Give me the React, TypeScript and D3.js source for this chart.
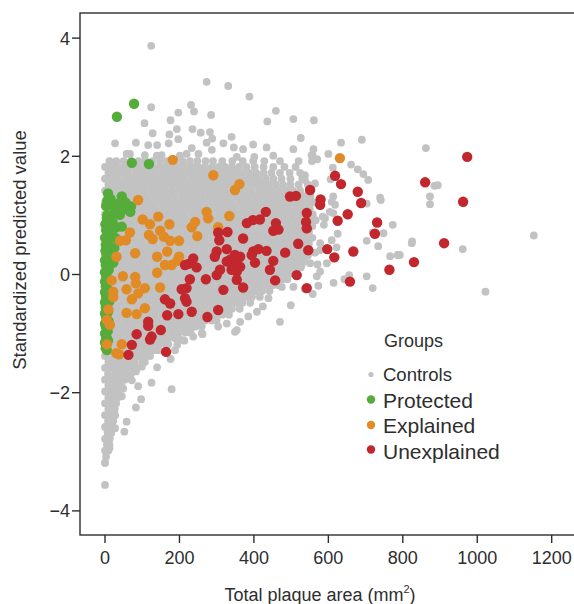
import React from "react";
import * as d3 from "d3";

const xTicks = [0, 200, 400, 600, 800, 1000, 1200];
const yTicks = [-4, -2, 0, 2, 4];
const legendLabels = ["Controls", "Protected", "Explained", "Unexplained"];
const groupColors = ["#c2c2c2", "#56ac3a", "#e08b25", "#c1272d"];

// dense control cloud: rows of [y, x values]
const controlsRows: [number, number[]][] = [
  [1.92, [12, 30, 50, 70, 90, 108, 128, 148, 167, 188, 208, 228, 248, 270, 290, 315, 342, 370, 398, 428, 470, 520, 556]],
  [1.82, [0, 18, 35, 53, 72, 90, 107, 125, 144, 162, 179, 197, 216, 234, 251, 269, 288, 306, 323, 341, 360, 380, 402, 426, 452, 482, 512]],
  [1.72, [9, 27, 44, 62, 81, 99, 116, 134, 153, 171, 188, 206, 225, 243, 260, 278, 297, 315, 332, 350, 369, 387, 406, 426, 447, 470, 496, 524]],
  [1.62, [0, 17, 35, 54, 71, 90, 108, 125, 143, 162, 180, 197, 215, 234, 252, 269, 287, 306, 324, 341, 359, 378, 396, 413, 432, 452, 474, 498, 530]],
  [1.52, [9, 26, 45, 62, 80, 99, 117, 134, 152, 171, 189, 206, 224, 243, 261, 278, 296, 315, 333, 350, 368, 387, 405, 422, 440, 459, 478, 498, 520, 545]],
  [1.42, [0, 18, 36, 53, 71, 90, 107, 126, 144, 161, 179, 198, 216, 233, 251, 270, 288, 305, 323, 342, 360, 377, 395, 414, 432, 449, 467, 486, 504, 524, 548]],
  [1.32, [8, 27, 44, 63, 81, 98, 116, 135, 153, 170, 188, 207, 225, 242, 260, 279, 297, 314, 332, 351, 369, 386, 404, 423, 441, 458, 476, 495, 513, 533, 552]],
  [1.22, [0, 18, 35, 53, 72, 90, 107, 125, 144, 162, 179, 197, 216, 234, 251, 269, 288, 306, 323, 341, 360, 378, 395, 413, 432, 450, 467, 485, 504, 522, 541, 558]],
  [1.12, [9, 27, 44, 62, 81, 99, 116, 134, 153, 171, 188, 206, 225, 243, 260, 278, 297, 315, 332, 350, 369, 387, 404, 422, 441, 459, 476, 494, 513, 531, 550]],
  [1.02, [0, 17, 35, 54, 71, 90, 108, 125, 143, 162, 180, 197, 215, 234, 252, 269, 287, 306, 324, 341, 359, 378, 396, 413, 432, 450, 468, 485, 503, 522, 540, 558]],
  [0.92, [9, 26, 45, 62, 80, 99, 117, 134, 152, 171, 189, 206, 224, 243, 261, 278, 296, 315, 333, 350, 368, 387, 405, 422, 440, 459, 477, 494, 512, 531, 549, 566]],
  [0.82, [0, 18, 36, 53, 71, 90, 107, 126, 144, 161, 179, 198, 216, 233, 251, 270, 288, 305, 323, 342, 360, 377, 395, 414, 432, 449, 467, 486, 504, 521, 539, 557]],
  [0.72, [8, 27, 44, 63, 81, 98, 116, 135, 153, 170, 188, 207, 225, 242, 260, 279, 297, 314, 332, 351, 369, 386, 404, 423, 441, 458, 476, 495, 513, 531, 548]],
  [0.62, [0, 18, 35, 53, 72, 90, 107, 125, 144, 162, 179, 197, 216, 234, 251, 269, 288, 306, 323, 341, 360, 378, 395, 413, 432, 450, 467, 485, 504, 522, 539, 557]],
  [0.52, [9, 27, 44, 62, 81, 99, 116, 134, 153, 171, 188, 206, 225, 243, 260, 278, 297, 315, 332, 350, 369, 387, 404, 422, 441, 459, 476, 494, 513, 531, 548]],
  [0.42, [0, 17, 35, 54, 71, 90, 108, 125, 143, 162, 180, 197, 215, 234, 252, 269, 287, 306, 324, 341, 359, 378, 396, 413, 432, 450, 468, 485, 503, 522, 540]],
  [0.32, [9, 26, 45, 62, 80, 99, 117, 134, 152, 171, 189, 206, 224, 243, 261, 278, 296, 315, 333, 350, 368, 387, 405, 422, 440, 459, 477, 494, 512, 530, 545]],
  [0.22, [0, 18, 36, 53, 71, 90, 107, 126, 144, 161, 179, 198, 216, 233, 251, 270, 288, 305, 323, 342, 360, 377, 395, 414, 432, 449, 467, 486, 504, 521, 535]],
  [0.12, [8, 27, 44, 63, 81, 98, 116, 135, 153, 170, 188, 207, 225, 242, 260, 279, 297, 314, 332, 351, 369, 386, 404, 423, 441, 458, 476, 495, 513, 526]],
  [0.02, [0, 18, 35, 53, 72, 90, 107, 125, 144, 162, 179, 197, 216, 234, 251, 269, 288, 306, 323, 341, 360, 378, 395, 413, 432, 450, 467, 485, 502]],
  [-0.08, [9, 27, 44, 62, 81, 99, 116, 134, 153, 171, 188, 206, 225, 243, 260, 278, 297, 315, 332, 350, 369, 387, 404, 422, 441, 459, 476, 490]],
  [-0.18, [0, 17, 35, 54, 71, 90, 108, 125, 143, 162, 180, 197, 215, 234, 252, 269, 287, 306, 324, 341, 359, 378, 396, 413, 432, 450, 466]],
  [-0.28, [9, 26, 45, 62, 80, 99, 117, 134, 152, 171, 189, 206, 224, 243, 261, 278, 296, 315, 333, 350, 368, 387, 405, 422, 442]],
  [-0.38, [0, 18, 36, 53, 71, 90, 107, 126, 144, 161, 179, 198, 216, 233, 251, 270, 288, 305, 323, 342, 360, 377, 395, 416]],
  [-0.48, [8, 27, 44, 63, 81, 98, 116, 135, 153, 170, 188, 207, 225, 242, 260, 279, 297, 314, 332, 351, 369, 390]],
  [-0.58, [0, 18, 35, 53, 72, 90, 107, 125, 144, 162, 179, 197, 216, 234, 251, 269, 288, 306, 323, 341, 362]],
  [-0.68, [9, 27, 44, 62, 81, 99, 116, 134, 153, 171, 188, 206, 225, 243, 260, 278, 297, 315, 333]],
  [-0.78, [0, 17, 35, 54, 71, 90, 108, 125, 143, 162, 180, 197, 215, 234, 252, 269, 287, 300]],
  [-0.88, [9, 26, 45, 62, 80, 99, 117, 134, 152, 171, 189, 206, 224, 243, 260]],
  [-0.98, [0, 18, 36, 53, 71, 90, 107, 126, 144, 161, 179, 198, 216, 230]],
  [-1.08, [8, 27, 44, 63, 81, 98, 116, 135, 153, 170, 188, 198]],
  [-1.18, [0, 18, 35, 53, 72, 90, 107, 125, 144, 162, 170]],
  [-1.28, [9, 27, 44, 62, 81, 99, 116, 134, 145]],
  [-1.38, [0, 17, 35, 54, 71, 90, 108, 121]],
  [-1.48, [9, 26, 45, 62, 80, 100]],
  [-1.58, [0, 18, 36, 53, 71, 86]],
  [-1.68, [8, 27, 44, 62, 70]],
  [-1.78, [0, 18, 35, 53]],
  [-1.88, [9, 27, 44]],
  [-1.98, [0, 17, 35]],
  [-2.08, [9, 26, 34]],
  [-2.18, [0, 18, 30]],
  [-2.28, [9, 26]],
  [-2.38, [0, 16, 26]],
  [-2.48, [8, 22]],
  [-2.58, [0, 14, 20]],
  [-2.68, [7, 17]],
  [-2.78, [0, 13]],
  [-2.88, [5, 12]],
  [-2.98, [0, 9]],
  [-3.08, [3]],
  [-3.18, [0]],
];

// scattered control points outside the dense cloud [x, y]
const controlsSparse: [number, number][] = [
  [124, 3.87], [273, 3.26], [331, 3.19], [388, 3.01], [231, 2.87], [239, 2.76], [124, 2.83], [197, 2.74],
  [285, 2.7], [459, 2.77], [436, 2.59], [506, 2.63], [561, 2.61], [176, 2.61], [106, 2.56], [193, 2.46],
  [235, 2.46], [128, 2.39], [257, 2.4], [282, 2.41], [173, 2.37], [288, 2.3], [340, 2.33], [197, 2.29],
  [526, 2.31], [27, 2.22], [83, 2.23], [116, 2.19], [140, 2.19], [171, 2.22], [273, 2.23], [318, 2.22],
  [346, 2.15], [398, 2.2], [371, 2.12], [434, 2.15], [506, 2.12], [560, 2.12], [233, 2.14], [287, 2.11],
  [600, 2.04], [452, 2.01], [555, 2.02], [570, 1.95], [58, 2.04], [67, 2.04], [107, 2.02], [139, 2.01],
  [152, 2.02], [201, 2.01], [219, 2.04], [251, 2.04], [354, 1.99], [401, 1.99],
  [634, 2.23], [690, 2.28], [558, 2.01], [661, 1.86], [679, 1.78], [694, 1.7], [707, 1.6], [612, 1.81],
  [537, 1.68], [537, 1.6], [564, 1.54], [606, 1.61], [739, 1.3], [862, 2.14], [885, 1.5], [894, 1.51],
  [873, 1.32], [873, 1.19], [773, 0.84], [613, 1.32], [618, 1.18], [604, 1.06], [524, 1.4], [537, 1.32],
  [591, 0.95], [560, 0.92], [703, 1.2], [528, 1.23], [609, 1.23], [741, 1.26], [748, 0.7], [719, 0.71],
  [703, 0.57], [734, 0.48], [824, 0.53], [825, 0.56], [766, 0.31], [786, 0.33], [961, 0.43], [703, -0.03],
  [719, -0.23], [656, -0.01], [643, -0.08], [614, -0.14], [573, -0.19], [558, -0.33], [569, -0.03], [571, 0.17],
  [528, 0.16], [622, 0.46], [625, 0.69], [588, 0.84], [613, 1.04], [585, 0.98], [564, 0.37], [578, 0.53],
  [546, 0.58], [609, 0.58], [1152, 0.66], [1022, -0.29], [792, 0.33],
  [470, -0.8], [499, -0.52], [537, -0.25], [506, -0.21], [475, -0.21], [439, -0.4], [424, -0.54], [408, -0.63],
  [385, -0.71], [363, -0.8], [354, -0.94], [327, -0.83], [304, -0.88], [260, -0.99], [237, -1.05], [210, -1.11],
  [194, -1.19], [188, -1.28], [596, 0.19], [578, 0.41], [551, 0.19], [519, 0.13], [578, 0.05], [349, -0.97],
  [262, -1.01], [213, -1.12], [176, -1.43], [140, -1.57], [125, -1.83], [89, -1.89], [72, -1.79], [83, -1.64],
  [179, -1.94], [97, -2.11], [83, -2.25], [45, -2.06], [58, -2.49], [52, -2.66], [27, -2.6], [27, -2.38],
  [12, -2.94], [0, -3.19], [0, -3.56], [99, -1.56], [107, -1.48], [67, -1.7], [49, -1.93],
];

const protectedPts: [number, number][] = [
  [32, 2.67], [78, 2.89], [72, 1.89], [118, 1.87], [8, 1.37], [45, 1.32], [15, 1.28], [6, 1.25], [35, 1.2],
  [55, 1.22], [3, 1.16], [20, 1.18], [70, 1.15], [48, 1.1], [68, 1.06], [25, 1.05], [40, 1.01], [5, 0.95],
  [20, 0.9], [13, 0.87], [45, 0.81], [30, 0.8], [3, 0.75], [18, 0.7], [6, 0.68], [28, 0.62], [10, 0.6],
  [2, 0.5], [25, 0.45], [12, 0.42], [4, 0.33], [14, 0.25], [22, 0.2], [2, 0.16], [10, 0.08], [3, -0.02],
  [12, -0.1], [2, -0.2], [9, -0.28], [3, -0.38], [11, -0.46], [2, -0.55], [8, -0.63], [3, -0.72], [10, -0.8],
  [2, -0.88], [7, -0.96], [3, -1.05], [8, -1.12], [3, -1.2], [5, -1.28],
  [6, 1.0], [1, 0.85], [8, 0.78], [0, 0.62], [7, 0.55], [1, 0.4], [7, 0.3], [0, 0.24], [6, 0.12], [0, 0.04],
  [6, -0.06], [0, -0.12], [6, -0.24], [0, -0.3], [6, -0.42], [0, -0.47], [5, -0.58], [0, -0.66], [6, -0.76],
  [0, -0.83], [5, -0.92], [0, -1.0], [5, -1.08], [0, -1.15], [2, -1.25],
];

const explainedPts: [number, number][] = [
  [89, 1.26], [143, 0.98], [101, 0.93], [121, 0.85], [173, 0.85], [273, 1.06], [277, 0.95], [242, 0.89],
  [233, 0.8], [334, 0.99], [148, 0.74], [118, 0.67], [67, 0.71], [40, 0.57], [56, 0.58], [128, 0.6],
  [158, 0.64], [175, 0.57], [199, 0.57], [248, 0.65], [304, 0.8], [81, 0.36], [31, 0.3], [140, 0.3],
  [167, 0.39], [199, 0.3], [194, 0.23], [161, 0.16], [179, 0.16], [140, 0.03], [48, -0.03], [81, -0.04],
  [18, -0.1], [83, -0.15], [58, -0.25], [107, -0.23], [148, -0.22], [22, -0.29], [89, -0.32], [72, -0.42],
  [22, -0.38], [9, -0.59], [107, -0.57], [58, -0.65], [85, -0.67], [5, -0.77], [13, -0.85], [45, -1.18],
  [30, -1.33], [5, -1.18], [38, -1.35], [182, 1.94], [291, 1.68], [349, 1.43], [361, 1.53], [631, 1.97],
];

const unexplainedPts: [number, number][] = [
  [497, 1.32], [513, 1.33], [551, 1.43], [579, 1.27], [578, 1.18], [542, 1.04], [540, 0.89], [542, 0.78],
  [432, 1.06], [416, 0.93], [397, 0.92], [381, 0.87], [459, 0.87], [452, 0.74], [466, 0.76], [304, 0.71],
  [329, 0.72], [307, 0.58], [371, 0.61], [519, 0.52], [597, 0.43], [546, 0.41], [300, 0.39], [327, 0.43],
  [295, 0.3], [398, 0.39], [412, 0.43], [434, 0.4], [484, 0.37], [349, 0.33], [363, 0.3], [336, 0.25],
  [354, 0.19], [237, 0.27], [224, 0.18], [246, 0.12], [215, 0.16], [327, 0.22], [363, 0.13], [354, 0.05],
  [403, 0.2], [452, 0.23], [443, 0.08], [300, -0.01], [309, 0.08], [271, -0.08], [228, -0.08], [354, -0.09],
  [457, -0.1], [515, -0.01], [371, -0.22], [318, -0.26], [219, -0.23], [206, -0.25], [219, -0.46], [215, -0.4],
  [542, -0.23], [161, -0.42], [175, -0.49], [304, -0.6], [233, -0.63], [197, -0.67], [167, -0.69], [275, -0.72],
  [116, -0.8], [116, -0.87], [85, -1.01], [125, -1.05], [150, -0.94], [72, -1.19], [63, -1.36], [164, -1.31],
  [121, -1.1], [973, 1.99], [860, 1.56], [962, 1.23], [618, 1.67], [634, 1.53], [679, 1.4], [688, 1.21],
  [652, 1.02], [625, 0.91], [731, 0.88], [725, 0.69], [911, 0.53], [616, 0.29], [667, 0.39], [830, 0.21],
  [764, 0.08], [658, -0.12], [340, 0.08], [394, 0.33],
];

const FONT = "'Liberation Sans', Arial, Helvetica, sans-serif";
const INK = "#2e2e2e";

export default function App() {
  const W = 574;
  const H = 604;
  const x = d3.scaleLinear().domain([-67.2, 1262.6]).range([80, 575]);
  const y = d3.scaleLinear().domain([-4.408, 4.425]).range([535, 13]);

  const controls: [number, number][] = [
    ...controlsRows.flatMap(([yy, xs]) => xs.map((xx) => [xx, yy] as [number, number])),
    ...controlsSparse,
  ];
  const groups: [number, number][][] = [controls, protectedPts, explainedPts, unexplainedPts];
  const radii = [3.9, 5.2, 5.2, 5.2];

  const legendY = [374.5, 399.5, 425, 449.5];
  const legendBase = [381, 407.5, 433, 459];
  const legendSize = [18.5, 21, 21, 21];
  const legendDotR = [2.6, 4.2, 4.2, 4.2];

  return (
    <svg
      width={W}
      height={H}
      style={{ position: "absolute", left: 0, top: 0, background: "#fff" }}
      fontFamily={FONT}
    >
      <rect x={0} y={0} width={W} height={H} fill="#fff" />
      <g>
        {groups.map((pts, gi) => (
          <g key={gi} fill={groupColors[gi]}>
            {pts.map((p, i) => (
              <circle key={i} cx={x(p[0])} cy={y(p[1])} r={radii[gi]} />
            ))}
          </g>
        ))}
      </g>
      <rect
        x={x(-67.2)}
        y={y(4.425)}
        width={x(1262.6) - x(-67.2)}
        height={y(-4.408) - y(4.425)}
        fill="none"
        stroke={INK}
        strokeWidth={1.4}
      />
      {yTicks.map((t) => (
        <g key={t}>
          <line x1={72} x2={80} y1={y(t)} y2={y(t)} stroke={INK} strokeWidth={1.4} />
          <text x={70} y={y(t) + 6.5} textAnchor="end" fontSize={18} fill={INK}>
            {t < 0 ? "\u2212" + Math.abs(t) : String(t)}
          </text>
        </g>
      ))}
      {xTicks.map((t) => (
        <g key={t}>
          <line x1={x(t)} x2={x(t)} y1={535} y2={543} stroke={INK} strokeWidth={1.4} />
          <text x={x(t)} y={564} textAnchor="middle" fontSize={18} fill={INK}>
            {String(t)}
          </text>
        </g>
      ))}
      <text
        transform="translate(25.5,250) rotate(-90)"
        textAnchor="middle"
        fontSize={18.5}
        fill={INK}
      >
        Standardized predicted value
      </text>
      <text x={320} y={601} textAnchor="middle" fontSize={18} fill={INK}>
        Total plaque area (mm
        <tspan fontSize={11} dy={-8}>2</tspan>
        <tspan dy={8}>)</tspan>
      </text>
      <text x={384} y={347} fontSize={18} fill={INK}>
        Groups
      </text>
      {legendLabels.map((lab, i) => (
        <g key={lab}>
          <circle cx={371} cy={legendY[i]} r={legendDotR[i]} fill={groupColors[i]} />
          <text x={383} y={legendBase[i]} fontSize={legendSize[i]} fill={INK}>
            {lab}
          </text>
        </g>
      ))}
    </svg>
  );
}
